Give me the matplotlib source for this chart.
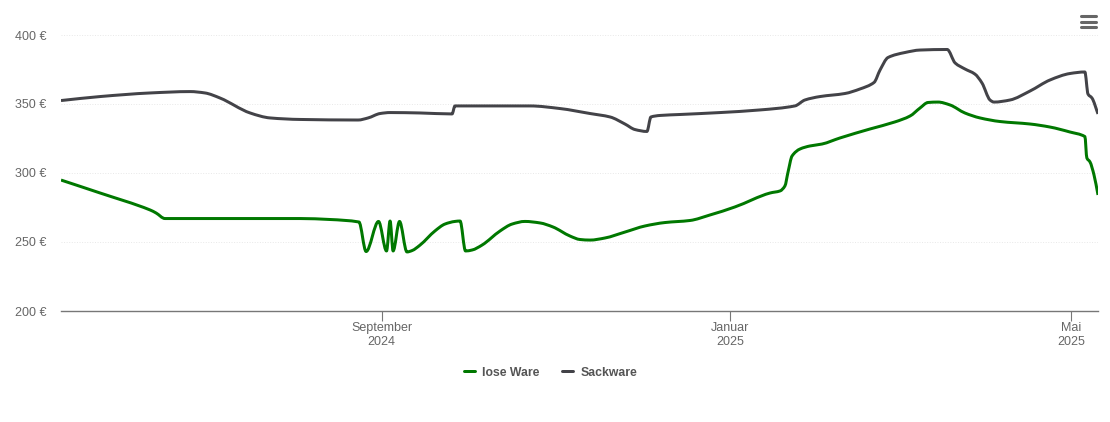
import numpy as np
import matplotlib
matplotlib.use('Agg')
import matplotlib.pyplot as plt
from matplotlib.lines import Line2D
from matplotlib.patches import PathPatch
from matplotlib.path import Path

plt.rcParams['font.family'] = ['Liberation Sans', 'DejaVu Sans']

# x values are days counted from 2024-09-01
lose_days = [-112.2, -98.5, -81, -78.9, -75.8, -70.5, -28.5, -18, -7.9, -5.4, -1.05,
             1.75, 3, 4.05, 6.3, 8.9, 10.7, 13.5, 18.7, 22.2, 25.7,
             27.5, 29.4, 31.7, 35.2, 41.5, 45.7, 50.2, 55.5, 60, 66, 69.5, 73, 78.2, 85.2, 92.2,
             99.2, 108, 115, 123.7, 136, 139.5, 141.2, 142.3, 143.7, 146.5, 150, 154.2, 160.5, 171,
             179.7, 185, 188.5, 191.3, 194.8, 199, 204.2, 209.5, 216.5, 227, 234, 241, 246.2, 246.9,
             248, 249.4, 250.8]
lose_prices = [294.9, 285.5, 273.2, 271, 267, 267, 267, 266.3, 264.5, 243.1, 264.9,
               243.5, 265.2, 243.5, 264.9, 242.8, 243.8,
               247.8, 258, 263, 264.9, 265.2, 243.5, 244.2, 247.8, 258, 263, 264.9, 263.8, 260.9,
               254.3, 251.8, 251.4, 252.9, 257.2, 261.6, 264.1, 265.6, 269.6, 275.4, 285.5, 287, 290.6,
               300.7, 312.3, 317.4, 319.6, 321, 325.4, 331.9, 337, 341.3, 347.1, 351.1, 351.4, 349.3,
               343.5, 339.9, 337.3, 335.5, 333.3, 329.7, 326.4, 310.9, 308, 298.6, 284.1]

sack_days = [-112.2, -98.5, -81, -67, -61.8, -56.5, -46, -39, -28.5, -8.2, -4.7, -0.5, 3, 13.5, 24.7,
             25.7, 34.5, 52, 62.5, 73, 80, 85.2, 88.7, 92.9, 94.3, 97.5, 104.5, 118.5, 132.5, 144.7,
             148.2, 153.5, 162.2, 167.5, 172.4, 174.5, 177.3, 183.2, 188.5, 198, 200.8, 204.2, 207.7,
             210.2, 213, 214.4, 220, 227, 234, 241, 246.2, 247.3, 248.7, 250.8]
sack_prices = [352.5, 355.4, 358, 359, 358, 354.3, 343.5, 339.9, 338.8, 338.4, 339.9, 343.1, 343.8, 343.5,
               342.8, 348.6, 348.6, 348.6, 346.7, 343.1, 340.6, 335.5, 331.5, 330.1, 340.6, 341.7, 342.4,
               343.8, 345.7, 348.6, 352.9, 355.4, 357.6, 360.9, 365.6, 374.6, 383.7, 387.3, 389.1, 389.5,
               379.7, 375.4, 371.7, 365.2, 352.9, 351.4, 352.9, 359.4, 367.4, 372.1, 373.2, 357.2, 354.3,
               342.8]

month_days = [0, 122, 241.5]
month_labels = ['September\n2024', 'Januar\n2025', 'Mai\n2025']
price_ticks = [200, 250, 300, 350, 400]
price_labels = ['200 €', '250 €', '300 €', '350 €', '400 €']

GREEN = '#007800'
GREY = '#434348'
W, H = 1110, 422


def spline_path(xs, ys):
    """Bezier path through the points, flat at local peaks like the spline in the original."""
    xs, ys = np.asarray(xs, float), np.asarray(ys, float)
    dx = np.diff(xs)
    slope = np.diff(ys) / dx
    tang = np.zeros(len(xs))
    for i in range(1, len(xs) - 1):
        if slope[i - 1] * slope[i] > 0:
            tang[i] = 2 * slope[i - 1] * slope[i] / (slope[i - 1] + slope[i])
    tang[0], tang[-1] = slope[0], slope[-1]
    verts = [(xs[0], ys[0])]
    for i in range(len(dx)):
        verts.append((xs[i] + dx[i] / 3, ys[i] + tang[i] * dx[i] / 3))
        verts.append((xs[i + 1] - dx[i] / 3, ys[i + 1] - tang[i + 1] * dx[i] / 3))
        verts.append((xs[i + 1], ys[i + 1]))
    codes = [Path.MOVETO] + [Path.CURVE4] * (len(verts) - 1)
    return Path(verts, codes)


fig = plt.figure(figsize=(W / 100, H / 100), dpi=100)
ax = fig.add_axes([61 / W, 1 - 311 / H, 1037 / W, 276 / H])

ax.add_patch(PathPatch(spline_path(lose_days, lose_prices), fill=False, edgecolor=GREEN, lw=2.16,
                       joinstyle='round', capstyle='butt'))
ax.add_patch(PathPatch(spline_path(sack_days, sack_prices), fill=False, edgecolor=GREY, lw=2.16,
                       joinstyle='round', capstyle='butt'))

ax.set_xlim(-112.2, 250.8)
ax.set_ylim(200, 400)
for s in ['top', 'left', 'right']:
    ax.spines[s].set_visible(False)
ax.spines['bottom'].set_color('#777777')
ax.spines['bottom'].set_linewidth(1.0)

ax.set_yticks(price_ticks, price_labels)
ax.set_xticks(month_days, month_labels)
ax.tick_params(axis='y', length=0, pad=10.4, labelsize=9, labelcolor='#666666')
ax.tick_params(axis='x', length=7.2, width=0.8, color='#777777', pad=0.8, labelsize=9, labelcolor='#666666')
ax.grid(axis='y', color='#e8e8e8', lw=0.7, ls=':')
ax.set_axisbelow(True)

handles = [Line2D([], [], color=GREEN, lw=2.16, solid_capstyle='round'),
           Line2D([], [], color=GREY, lw=2.16, solid_capstyle='round')]
fig.legend(handles, ['lose Ware', 'Sackware'], loc='center', bbox_to_anchor=(550.5 / W, 1 - 372.5 / H),
           ncol=2, frameon=False, borderpad=0, handlelength=0.9, handletextpad=0.6, columnspacing=1.8,
           prop={'size': 8.8, 'weight': 'bold'}, labelcolor='#555555')

# menu icon, top right
for y_px in [16, 21.5, 26.5]:
    fig.add_artist(Line2D([1081 / W, 1095.5 / W], [1 - y_px / H] * 2, color='#666666', lw=2.2,
                          solid_capstyle='round'))

fig.savefig('out.png', dpi=100)
